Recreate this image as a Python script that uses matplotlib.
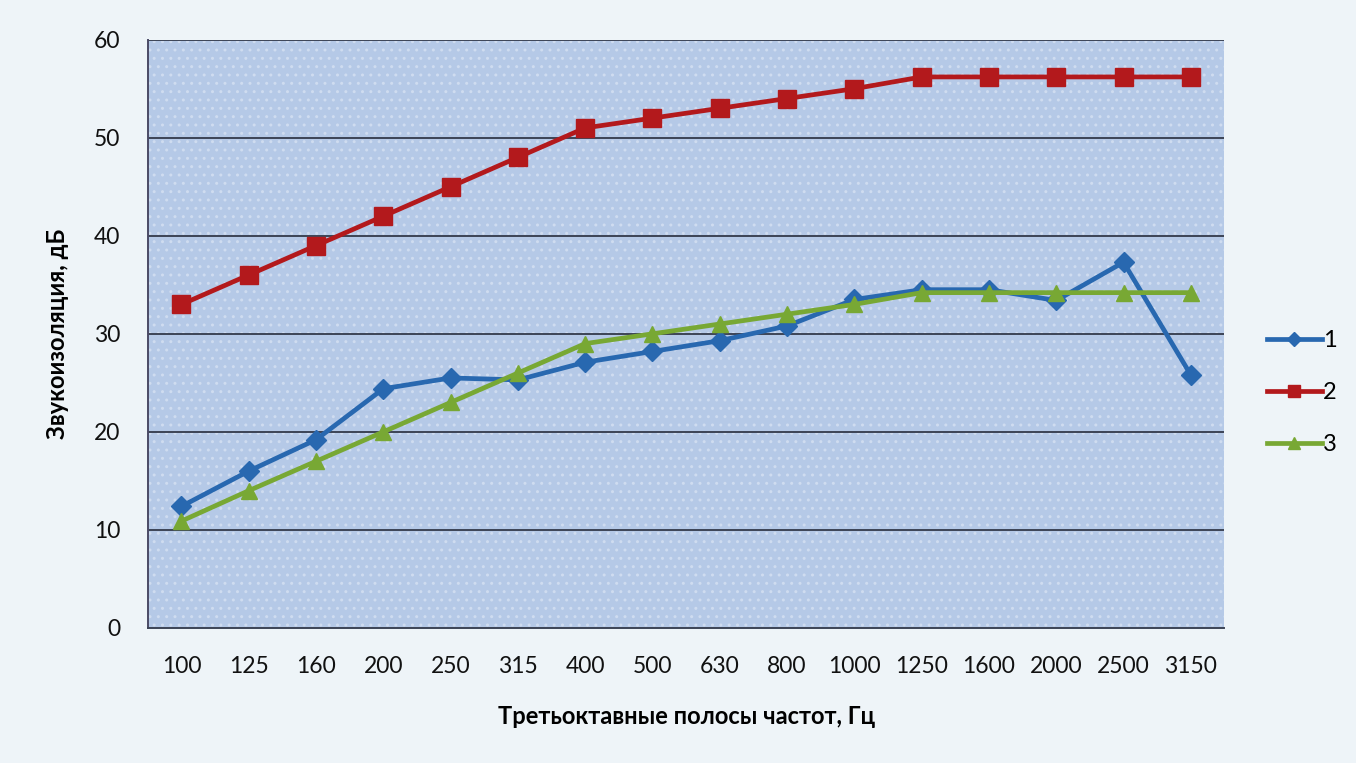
import matplotlib.pyplot as plt
import numpy as np

plt.rcParams["font.family"] = ["Lato", "DejaVu Sans"]

freqs = ["100", "125", "160", "200", "250", "315", "400", "500", "630",
         "800", "1000", "1250", "1600", "2000", "2500", "3150"]
series_1 = [12.4, 16.0, 19.2, 24.4, 25.5, 25.3, 27.1, 28.2, 29.3,
            30.8, 33.5, 34.5, 34.5, 33.4, 37.3, 25.8]
series_2 = [33, 36, 39, 42, 45, 48, 51, 52, 53,
            54, 55, 56.2, 56.2, 56.2, 56.2, 56.2]
series_3 = [10.9, 14, 17, 20, 23, 26, 29, 30, 31,
            32, 33, 34.2, 34.2, 34.2, 34.2, 34.2]

x = np.arange(len(freqs))

fig = plt.figure(figsize=(13.56, 7.63), dpi=100, facecolor="#eef4f8")
ax = fig.add_axes([0.109, 0.177, 0.794, 0.771])
ax.set_facecolor("#b5c9e7")

# faint dotted texture like the original fill
ax.fill_between([-0.5, 15.5], 0, 60, facecolor="none", edgecolor="#cfdcf0",
                hatch="..", linewidth=0, zorder=0)

for y in range(10, 70, 10):
    ax.axhline(y, color="#3c4456", linewidth=1.4, zorder=1)

ax.plot(x, series_1, color="#2868b0", linewidth=3.4, marker="D",
        markersize=10, label="1", zorder=4)
ax.plot(x, series_2, color="#b3191c", linewidth=3.4, marker="s",
        markersize=13, label="2", zorder=3)
ax.plot(x, series_3, color="#78a834", linewidth=3.4, marker="^",
        markersize=12, label="3", zorder=5)

ax.set_xlim(-0.5, 15.5)
ax.set_ylim(0, 60)
ax.set_yticks(range(0, 70, 10))
ax.set_xticks(x)
ax.set_xticklabels(freqs)
ax.tick_params(axis="both", length=0, labelsize=16.5, colors="#111111")
ax.tick_params(axis="x", pad=20)
ax.tick_params(axis="y", pad=20)

for side in ["top", "right"]:
    ax.spines[side].set_visible(False)
ax.spines["left"].set_color("#4a4a66")
ax.spines["left"].set_linewidth(1.4)
ax.spines["bottom"].set_color("#3c4456")
ax.spines["bottom"].set_linewidth(1.4)

ax.set_xlabel("Третьоктавные полосы частот, Гц", fontsize=17,
              fontweight="bold", labelpad=20)
ax.set_ylabel("Звукоизоляция, дБ", fontsize=17, fontweight="bold",
              labelpad=18)

leg = ax.legend(loc="center left", bbox_to_anchor=(1.02, 0.40), frameon=False,
                fontsize=17, handlelength=2.3, handletextpad=0.05,
                labelspacing=1.3, markerscale=0.7)

fig.savefig("out.png", dpi=100, facecolor=fig.get_facecolor())
